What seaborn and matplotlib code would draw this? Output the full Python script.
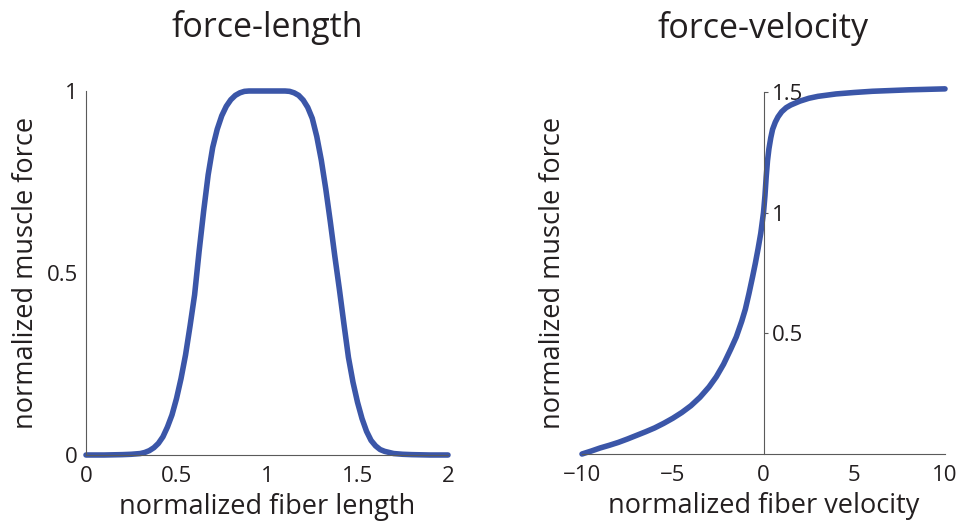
import matplotlib
matplotlib.use("Agg")
import matplotlib.pyplot as plt
import seaborn as sns

# ---- data ----
fl_length = [0, 0.1, 0.2, 0.25, 0.3, 0.325, 0.35, 0.375, 0.4, 0.425, 0.45, 0.475, 0.5,
             0.525, 0.55, 0.575, 0.6, 0.625, 0.65, 0.675, 0.7, 0.725, 0.75, 0.775, 0.8,
             0.825, 0.85, 0.875, 0.9, 1.0, 1.1, 1.125, 1.15, 1.175, 1.2, 1.225, 1.25,
             1.275, 1.3, 1.325, 1.35, 1.375, 1.4, 1.425, 1.45, 1.475, 1.5, 1.525, 1.55,
             1.575, 1.6, 1.625, 1.65, 1.675, 1.7, 1.75, 1.8, 1.9, 2.0]
fl_force = [0, 0, 0.001, 0.002, 0.004, 0.007, 0.012, 0.02, 0.032, 0.05, 0.077, 0.11, 0.155,
            0.21, 0.275, 0.355, 0.44, 0.56, 0.67, 0.77, 0.845, 0.895, 0.932, 0.958, 0.976,
            0.988, 0.995, 0.999, 1.0, 1.0, 1.0, 0.999, 0.995, 0.988, 0.975, 0.955, 0.925,
            0.875, 0.81, 0.73, 0.64, 0.545, 0.455, 0.36, 0.268, 0.2, 0.145, 0.1, 0.065,
            0.04, 0.025, 0.015, 0.01, 0.007, 0.004, 0.002, 0.001, 0, 0]

fv_velocity = [-10, -9.5, -9, -8.5, -8, -7.5, -7, -6.5, -6, -5.5, -5, -4.5, -4, -3.5, -3,
               -2.6, -2.2, -1.8, -1.5, -1.2, -1, -0.8, -0.6, -0.45, -0.3, -0.15, 0, 0.08,
               0.15, 0.22, 0.3, 0.4, 0.5, 0.65, 0.8, 1.0, 1.25, 1.5, 2, 2.5, 3, 4, 5, 6,
               7, 8, 9, 10]
fv_force = [0, 0.012, 0.025, 0.036, 0.048, 0.062, 0.077, 0.092, 0.108, 0.127, 0.148, 0.172,
            0.20, 0.235, 0.278, 0.32, 0.372, 0.435, 0.485, 0.55, 0.60, 0.665, 0.735, 0.79,
            0.85, 0.915, 1.0, 1.07, 1.15, 1.215, 1.265, 1.31, 1.345, 1.375, 1.397, 1.418,
            1.435, 1.446, 1.462, 1.474, 1.482, 1.492, 1.498, 1.503, 1.506, 1.509, 1.511,
            1.513]

fl_xticks = [0, 0.5, 1, 1.5, 2]
fl_xticklabels = ["0", "0.5", "1", "1.5", "2"]
fl_yticks = [0, 0.5, 1]
fl_yticklabels = ["0", "0.5", "1"]
fv_xticks = [-10, -5, 0, 5, 10]
fv_xticklabels = ["\u221210", "\u22125", "0", "5", "10"]
fv_yticks = [0.5, 1, 1.5]
fv_yticklabels = ["0.5", "1", "1.5"]

titles = ["force-length", "force-velocity"]
xlabels = ["normalized fiber length", "normalized fiber velocity"]
ylabel = "normalized muscle force"

# ---- style ----
sns.set_style("white")
plt.rcParams["font.family"] = ["Open Sans", "DejaVu Sans"]

LINE = "#3b56a8"
AXC = "#5a5a5a"
TXT = "#231f20"
LW = 4.0
LBL = 19.5
TICK = 16
TTL = 24.5

fig = plt.figure(figsize=(9.68, 5.27), dpi=100)
ax1 = fig.add_axes([86 / 968, 1 - 455 / 527, 362 / 968, 364 / 527])
ax2 = fig.add_axes([582 / 968, 1 - 454 / 527, 363 / 968, 362 / 527])

line_kw = dict(color=LINE, linewidth=LW, estimator=None, sort=False, clip_on=False,
               solid_capstyle="round", solid_joinstyle="round")

# ---- left: force-length ----
sns.lineplot(x=fl_length, y=fl_force, ax=ax1, **line_kw)
ax1.set_xlim(0, 2)
ax1.set_ylim(0, 1)
ax1.set_xticks(fl_xticks)
ax1.set_xticklabels(fl_xticklabels)
ax1.set_yticks(fl_yticks)
ax1.set_yticklabels(fl_yticklabels)
for s in ["top", "right"]:
    ax1.spines[s].set_visible(False)
for s in ["left", "bottom"]:
    ax1.spines[s].set_color(AXC)
    ax1.spines[s].set_linewidth(0.8)
ax1.tick_params(axis="x", direction="in", length=3, width=0.8, color=AXC,
                labelsize=TICK, labelcolor=TXT, pad=8)
ax1.tick_params(axis="y", direction="in", length=3, width=0.8, color=AXC,
                labelsize=TICK, labelcolor=TXT, pad=6)
ax1.set_xlabel(xlabels[0], fontsize=LBL, color=TXT)
ax1.set_ylabel(ylabel, fontsize=LBL, color=TXT)
ax1.xaxis.set_label_coords(0.5, -0.105)
ax1.yaxis.set_label_coords(-0.127, 0.5)
ax1.set_title(titles[0], fontsize=TTL, color=TXT, pad=39)

# ---- right: force-velocity ----
sns.lineplot(x=fv_velocity, y=fv_force, ax=ax2, **line_kw)
ax2.set_xlim(-10, 10)
ax2.set_ylim(0, 1.5)
ax2.set_xticks(fv_xticks)
ax2.set_xticklabels(fv_xticklabels)
ax2.yaxis.tick_right()
ax2.set_yticks(fv_yticks)
ax2.set_yticklabels(fv_yticklabels)
ax2.spines["top"].set_visible(False)
ax2.spines["left"].set_visible(False)
ax2.spines["right"].set_position(("data", 0))
for s in ["right", "bottom"]:
    ax2.spines[s].set_color(AXC)
    ax2.spines[s].set_linewidth(0.8)
ax2.tick_params(axis="x", direction="in", length=3, width=0.8, color=AXC,
                labelsize=TICK, labelcolor=TXT, pad=8)
ax2.tick_params(axis="y", direction="out", length=3, width=0.8, color=AXC,
                labelsize=TICK, labelcolor=TXT, pad=3)
ax2.set_xlabel(xlabels[1], fontsize=LBL, color=TXT)
ax2.xaxis.set_label_coords(0.5, -0.105)
ax2.yaxis.set_label_position("left")
ax2.set_ylabel(ylabel, fontsize=LBL, color=TXT)
ax2.yaxis.set_label_coords(-0.041, 0.5)
ax2.set_title(titles[1], fontsize=TTL, color=TXT, pad=39)

fig.savefig("out.png", dpi=100, facecolor="white")
